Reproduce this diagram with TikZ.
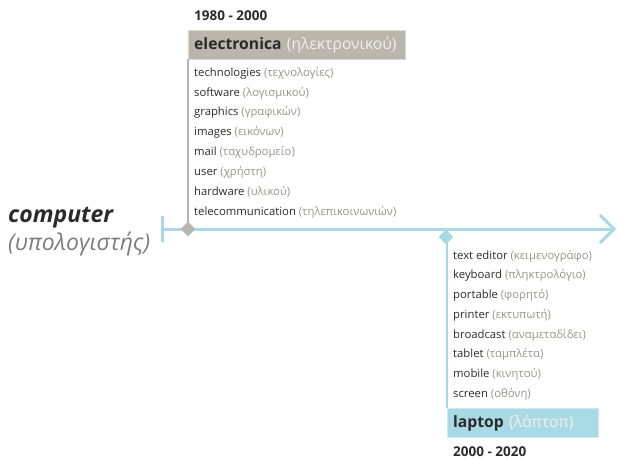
\documentclass[tikz,border=0pt]{standalone}
\usepackage{fontspec}
\setmainfont{Open Sans}
\usetikzlibrary{arrows.meta,positioning,shapes.geometric}
\definecolor{skyline}{HTML}{A8D9E5}
\definecolor{stone}{HTML}{BAB6AE}
\definecolor{ink}{HTML}{2B2B2B}
\definecolor{ash}{HTML}{99948D}
\definecolor{slate}{HTML}{7C7C7C}
\definecolor{chalk}{HTML}{F2F0EC}

\tikzset{
  item/.style={anchor=west,inner sep=0pt,font=\fontsize{11.3}{13}\selectfont,text=ink},
  era/.style={anchor=west,inner sep=0pt,font=\bfseries\fontsize{13.5}{15}\selectfont,text=ink},
  head/.style={anchor=north west,minimum height=29pt,inner xsep=6pt,inner ysep=0pt,
    text width=#1,align=left,font=\fontsize{15.7}{18}\selectfont,text=ink},
  knot/.style={diamond,minimum size=15pt,inner sep=0pt},
}
\newcommand{\gk}[1]{\textcolor{ash}{(#1)}}

\begin{document}
\begin{tikzpicture}[x=1pt,y=-1pt]
  \useasboundingbox (0,0) rectangle (618,460);
  % title
  \node[anchor=west,inner sep=0pt,font=\bfseries\itshape\fontsize{23}{27}\selectfont,text=ink]
    (comp) at (8,218) {computer};
  \node[anchor=west,inner sep=0pt,font=\itshape\fontsize{23}{27}\selectfont,text=slate]
    (compgr) at (8,244) {(υπολογιστής)};
  % timeline
  \coordinate (t0) at (161,229);
  \coordinate (t1) at (616,229);
  \draw[skyline,line width=3pt,{Bar[width=26pt]}-{Straight Barb[length=14pt,width=28pt]}] (t0) -- (t1);
  % 1980 - 2000
  \node[era] (era1) at (194,16) {1980 - 2000};
  \node[head=205pt,fill=stone,draw=stone!55!white] (elec) at (188,30)
    {\textbf{electronica} \textcolor{chalk}{(ηλεκτρονικού)}};
  \coordinate (s1) at (188,229);
  \draw[stone,line width=1.5pt] (elec.south west) -- (s1);
  \node[knot,fill=stone] (k1) at (s1) {};
  \foreach \w/\g [count=\i] in {technologies/τεχνολογίες,software/λογισμικού,graphics/γραφικών,
      images/εικόνων,mail/ταχυδρομείο,user/χρήστη,hardware/υλικού,telecommunication/τηλεπικοινωνιών}
    \node[item] (e\i) at (194,{53.2+19.85*\i}) {\w\ \gk{\g}};
  % 2000 - 2020
  \node[head=139pt,fill=skyline,draw=skyline!55!white] (lap) at (447,408)
    {\textbf{laptop} \textcolor{chalk}{(λάπτοπ)}};
  \node[era] (era2) at (453,452) {2000 - 2020};
  \coordinate (s2) at (447,229);
  \draw[skyline,line width=1.5pt] (s2) -- (lap.north west);
  \node[knot,fill=skyline] (k2) at (446,237) {};
  \foreach \w/\g [count=\i] in {text editor/κειμενογράφο,keyboard/πληκτρολόγιο,portable/φορητό,
      printer/εκτυπωτή,broadcast/αναμεταδίδει,tablet/ταμπλέτα,mobile/κινητού,screen/οθόνη}
    \node[item] (l\i) at (453,{236.3+19.71*\i}) {\w\ \gk{\g}};
\end{tikzpicture}
\end{document}
